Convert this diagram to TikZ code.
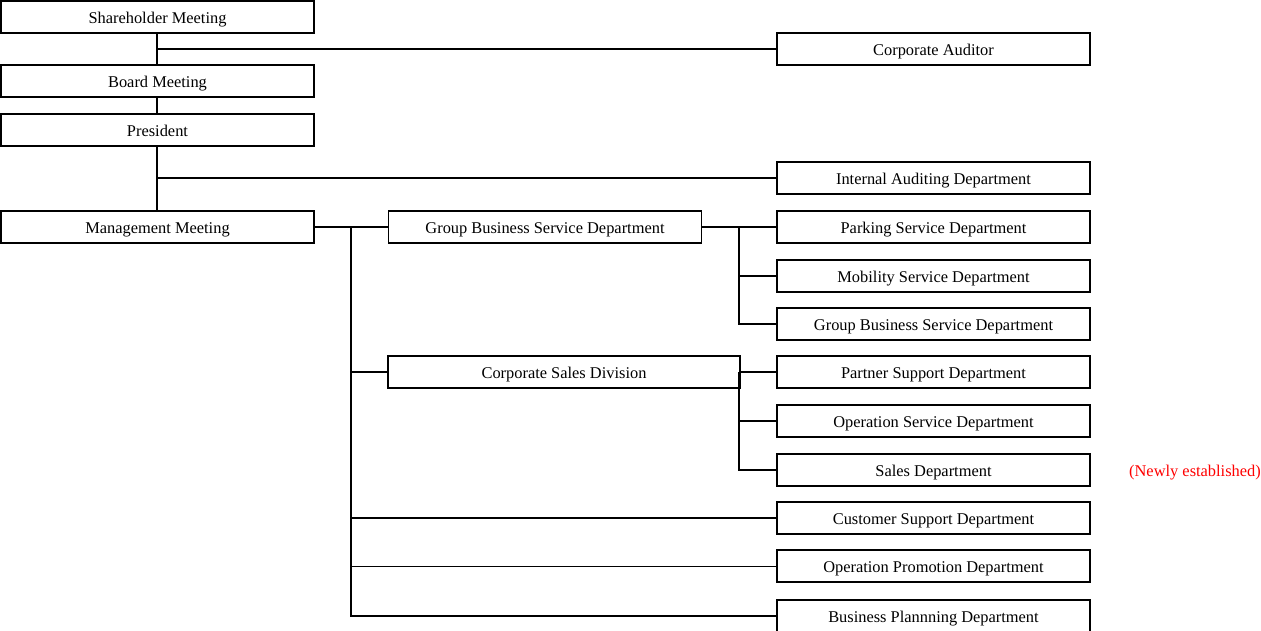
\documentclass[tikz,border=0pt]{standalone}
\usepackage{fontspec}
\setmainfont{Liberation Serif}
\begin{document}
\begin{tikzpicture}[x=1pt,y=-1pt,
  box/.style={draw, line width=1.6pt, minimum width=313pt, minimum height=32pt, inner sep=0pt, text height=13pt, text depth=1pt, font=\fontsize{16.4}{18}\selectfont},
  link/.style={line width=1.6pt},
  thinlink/.style={line width=0.9pt}]
\useasboundingbox (0,0) rectangle (1261,630);
\clip (0,0) rectangle (1261,630);
\node[box] (sh) at (157.5,17) {Shareholder Meeting};
\node[box] (ca) at (933.5,49) {Corporate Auditor};
\node[box] (bm) at (157.5,81) {Board Meeting};
\node[box] (pr) at (157.5,130) {President};
\node[box] (ia) at (933.5,178) {Internal Auditing Department};
\node[box] (mm) at (157.5,227) {Management Meeting};
\node[box] (gbs) at (545,227) {Group Business Service Department};
\node[box] (ps) at (933.5,227) {Parking Service Department};
\node[box] (ms) at (933.5,276) {Mobility Service Department};
\node[box] (gbs2) at (933.5,324) {Group Business Service Department};
\node[box, minimum width=352pt] (csd) at (564,372) {Corporate Sales Division};
\node[box] (psd) at (933.5,372) {Partner Support Department};
\node[box] (osd) at (933.5,421) {Operation Service Department};
\node[box] (sd) at (933.5,470) {Sales Department};
\node[box] (cs) at (933.5,518) {Customer Support Department};
\node[box] (op) at (933.5,566) {Operation Promotion Department};
\node[box] (bp) at (933.5,616) {Business Plannning Department};
\node[text=red, inner sep=0pt, anchor=east, text height=13pt, text depth=1pt, font=\fontsize{16.4}{18}\selectfont] (new) at (1261,470) {(Newly established)};
% connectors
\coordinate (sx) at ([xshift=-0.5pt]sh.south);
\draw[link] (sx) -- (sx |- bm.north);
\draw[link] (sx |- ca.west) -- (ca.west);
\draw[link] (sx |- bm.south) -- (sx |- pr.north);
\draw[link] (sx |- pr.south) -- (sx |- mm.north);
\draw[link] (sx |- ia.west) -- (ia.west);
\draw[link] (mm.east) -- (gbs.west);
\coordinate (v1) at (351,227);
\draw[link] (v1) -- (v1 |- bp.west) -- (bp.west);
\draw[link] (v1 |- csd.west) -- (csd.west);
\draw[link] (v1 |- cs.west) -- (cs.west);
\draw[thinlink] (v1 |- op.west) -- (op.west);
\draw[link] (gbs.east) -- (ps.west);
\coordinate (v2) at (739,227);
\draw[link] (v2) -- (v2 |- gbs2.west) -- (gbs2.west);
\draw[link] (v2 |- ms.west) -- (ms.west);
\draw[link] (csd.east) -- (psd.west);
\coordinate (v3) at (739,372);
\draw[link] (v3) -- (v3 |- sd.west) -- (sd.west);
\draw[link] (v3 |- osd.west) -- (osd.west);
\end{tikzpicture}
\end{document}
